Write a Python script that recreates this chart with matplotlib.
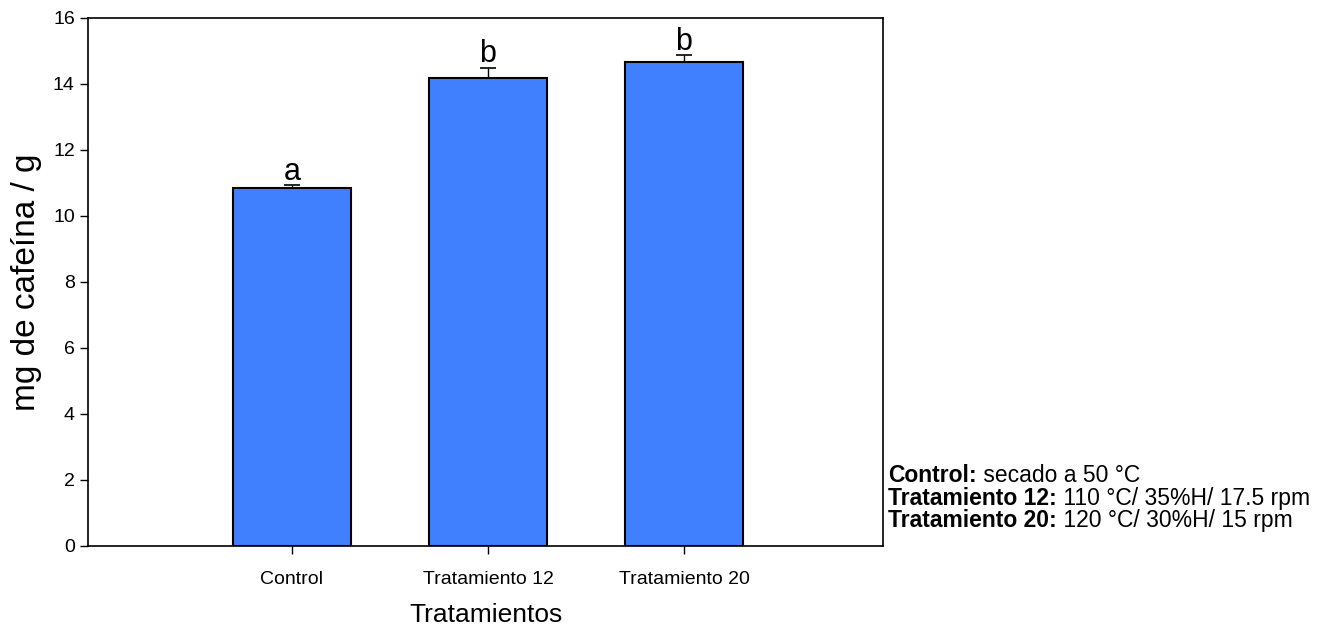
import matplotlib
matplotlib.use("Agg")
import matplotlib.pyplot as plt

plt.rcParams['font.family'] = ['Liberation Sans', 'DejaVu Sans']

tratamientos = ['Control', 'Tratamiento 12', 'Tratamiento 20']
cafeina = [10.86, 14.19, 14.68]
error = [0.08, 0.30, 0.19]
letras = ['a', 'b', 'b']

fig = plt.figure(figsize=(13.38, 6.29), dpi=100)
ax = fig.add_axes([88/1338, 1 - 546/629, 795/1338, 528/629])

x = list(range(len(tratamientos)))
ax.bar(x, cafeina, width=0.6, color='#4080FF', edgecolor='black', linewidth=1.5, zorder=2)
ax.errorbar(x, cafeina, yerr=[[0]*len(error), error], fmt='none', ecolor='black',
            elinewidth=1, capsize=5.8, capthick=1.2, zorder=3)
for xi, v, e, l in zip(x, cafeina, error, letras):
    ax.text(xi, v + e - 0.05, l, ha='center', va='bottom', fontsize=22)

ax.set_xlim(-1.04, 3.015)
ax.set_ylim(0, 16)
ax.set_yticks(range(0, 17, 2))
ax.set_xticks(x)
ax.set_xticklabels(tratamientos, fontsize=14)
ax.tick_params(axis='y', labelsize=14, direction='out', length=6, width=1)
ax.tick_params(axis='x', direction='out', length=6, width=1, pad=12)
ax.set_ylabel('mg de cafeína / g', fontsize=24, labelpad=8)
ax.set_xlabel('Tratamientos', fontsize=19, labelpad=11)
for s in ax.spines.values():
    s.set_linewidth(1.2)

notas = [('Control:', ' secado a 50 °C'),
         ('Tratamiento 12:', ' 110 °C/ 35%H/ 17.5 rpm'),
         ('Tratamiento 20:', ' 120 °C/ 30%H/ 15 rpm')]
ys = [482, 505, 527]
x0 = 888
fig.canvas.draw()
r = fig.canvas.get_renderer()
for (b, n), y in zip(notas, ys):
    t = fig.text(x0/1338, 1 - y/629, b, fontsize=16.5, fontweight='bold', va='baseline')
    w = t.get_window_extent(renderer=r).width
    fig.text((x0 + w)/1338, 1 - y/629, n, fontsize=16.5, va='baseline')

fig.savefig('out.png', dpi=100)
